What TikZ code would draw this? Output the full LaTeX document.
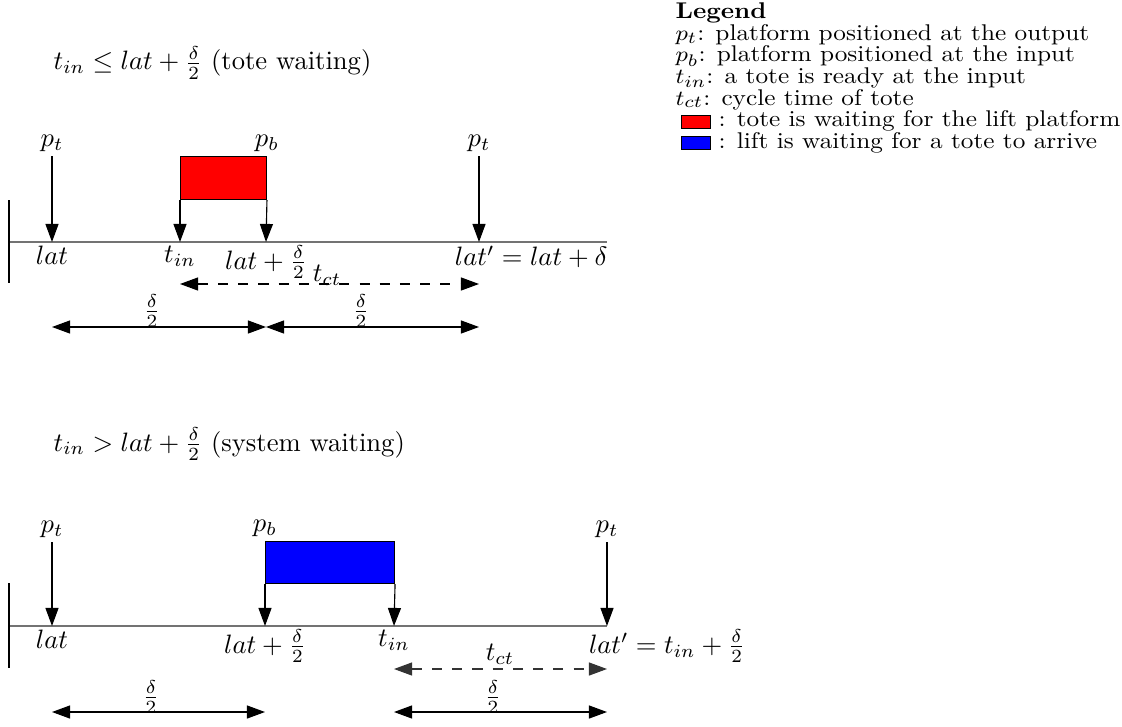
\documentclass[tikz,border=0pt]{standalone}
\usetikzlibrary{arrows.meta}
\newcommand{\legline}[1]{\scalebox{1}[0.9]{\fontsize{9.5}{11}\selectfont #1}}
\begin{document}
\begin{tikzpicture}[x=0.376pt,y=-0.376pt,
  tip/.tip={Triangle[length=6.8pt,width=4.9pt]},
  down/.style={-tip, line width=0.42pt},
  span/.style={tip-tip, line width=0.42pt},
  spandash/.style={span, dash pattern=on 3.8pt off 3.8pt},
  axis/.style={draw=black!55, line width=0.65pt},
  lbl/.style={inner sep=1.3pt},
  waitbox/.style={draw=black, line width=0.4pt, inner sep=0pt, anchor=north west},
  keybox/.style={draw=black, line width=0.4pt, inner sep=0pt, minimum width=10.9pt, minimum height=4.9pt, anchor=north west},
  legtext/.style={anchor=base west, inner sep=0pt}
]
\useasboundingbox (0,0) rectangle (1122,726);

% ---------- case 1: tote waiting ----------
\node[anchor=base west, inner sep=0pt] (title1) at (53,70) {$t_{in} \le lat + \frac{\delta}{2}$ (tote waiting)};

\coordinate (ax1s) at (9,242);
\coordinate (ax1e) at (607,242);
\draw[axis] (ax1s) -- (ax1e);
\coordinate (bar1t) at (9,200);
\coordinate (bar1b) at (9,283);
\draw[line width=0.42pt] (bar1t) -- (bar1b);

\coordinate (lat1) at (52,242);
\coordinate (tin1) at (180,242);
\coordinate (half1) at (266,242);
\coordinate (latp1) at (479,242);

\coordinate (pta1) at (52,156);
\coordinate (ptb1) at (479,156);
\draw[down] (pta1) -- (lat1);
\draw[down] (ptb1) -- (latp1);
\node[anchor=south, lbl] (ptl1) at (pta1) {$p_t$};
\node[anchor=south, lbl] (ptr1) at (ptb1) {$p_t$};

\node[waitbox, fill=red, minimum width=32.3pt, minimum height=16.2pt] (box1) at (180,156) {};
\draw[down] (box1.south west) -- (tin1);
\draw[down] (box1.south east) -- (half1);
\node[anchor=south, lbl] (pb1) at (box1.north east) {$p_b$};

\node[anchor=north, lbl] (llat1) at (lat1) {$lat$};
\node[anchor=north, lbl] (ltin1) at (tin1) {$t_{in}$};
\node[anchor=north, lbl] (lhalf1) at (half1) {$lat + \frac{\delta}{2}$};
\node[anchor=north west, lbl] (llatp1) at (451,242) {$lat' = lat + \delta$};

\coordinate (ct1s) at (180,284);
\coordinate (ct1e) at (479,284);
\draw[spandash] (ct1s) -- (ct1e);
\node[lbl] (tct1) at (327,275) {$t_{ct}$};

\coordinate (d1a) at (52,327);
\coordinate (d1b) at (266,327);
\coordinate (d1c) at (479,327);
\draw[span] (d1a) -- (d1b);
\draw[span] (d1b) -- (d1c);
\node[lbl] (dl1a) at (152,311) {$\frac{\delta}{2}$};
\node[lbl] (dl1b) at (361,311) {$\frac{\delta}{2}$};

% ---------- case 2: system waiting ----------
\node[anchor=base west, inner sep=0pt] (title2) at (53,451) {$t_{in} > lat + \frac{\delta}{2}$ (system waiting)};

\coordinate (ax2s) at (9,626);
\coordinate (ax2e) at (607,626);
\draw[axis] (ax2s) -- (ax2e);
\coordinate (bar2t) at (9,583);
\coordinate (bar2b) at (9,668);
\draw[line width=0.42pt] (bar2t) -- (bar2b);

\coordinate (lat2) at (52,626);
\coordinate (half2) at (265,626);
\coordinate (tin2) at (394,626);
\coordinate (latp2) at (607,626);

\coordinate (pta2) at (52,542);
\coordinate (ptb2) at (607,542);
\draw[down] (pta2) -- (lat2);
\draw[down] (ptb2) -- (latp2);
\node[anchor=south, lbl] (ptl2) at (pta2) {$p_t$};
\node[anchor=south, lbl] (ptr2) at (ptb2) {$p_t$};

\node[waitbox, fill=blue, minimum width=48.5pt, minimum height=15.8pt] (box2) at (265,541) {};
\draw[down] (box2.south west) -- (half2);
\draw[down] (box2.south east) -- (tin2);
\node[anchor=south, lbl] (pb2) at (box2.north west) {$p_b$};

\node[anchor=north, lbl] (llat2) at (lat2) {$lat$};
\node[anchor=north, lbl] (lhalf2) at (half2) {$lat + \frac{\delta}{2}$};
\node[anchor=north, lbl] (ltin2) at (tin2) {$t_{in}$};
\node[anchor=north west, lbl] (llatp2) at (585,626) {$lat' = t_{in} + \frac{\delta}{2}$};

\coordinate (ct2s) at (394,669);
\coordinate (ct2e) at (607,669);
\draw[spandash, draw=black!80] (ct2s) -- (ct2e);
\node[lbl] (tct2) at (500,654) {$t_{ct}$};

\coordinate (d2a) at (52,712);
\coordinate (d2b) at (265,712);
\coordinate (d2c) at (394,712);
\coordinate (d2d) at (607,712);
\draw[span] (d2a) -- (d2b);
\draw[span] (d2c) -- (d2d);
\node[lbl] (dl2a) at (151,697) {$\frac{\delta}{2}$};
\node[lbl] (dl2b) at (493,697) {$\frac{\delta}{2}$};

% ---------- legend ----------
\node[legtext] (leghead) at (675,19) {\legline{\textbf{Legend}}};
\node[legtext] (leg1) at (675,40.5) {\legline{$p_t$: platform positioned at the output}};
\node[legtext] (leg2) at (675,62) {\legline{$p_b$: platform positioned at the input}};
\node[legtext] (leg3) at (675,83.5) {\legline{$t_{in}$: a tote is ready at the input}};
\node[legtext] (leg4) at (675,105) {\legline{$t_{ct}$: cycle time of tote}};
\node[keybox, fill=red] (key1) at (681,115) {};
\node[legtext] (leg5) at (718,126.5) {\legline{: tote is waiting for the lift platform}};
\node[keybox, fill=blue] (key2) at (681,136) {};
\node[legtext] (leg6) at (718,148) {\legline{: lift is waiting for a tote to arrive}};
\end{tikzpicture}
\end{document}
